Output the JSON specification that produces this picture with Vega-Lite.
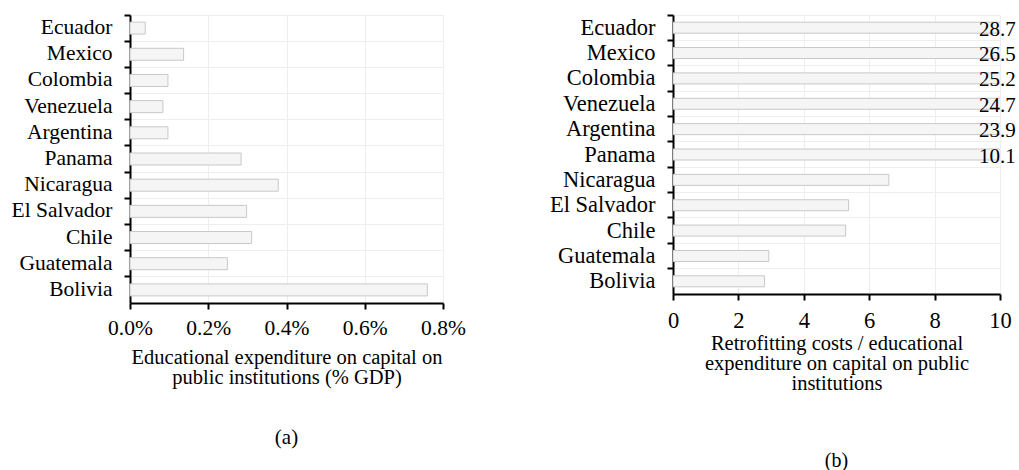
{
  "$schema": "https://vega.github.io/schema/vega-lite/v6.json",
  "padding": {"left": 11, "top": 14, "right": 0, "bottom": 0},
  "background": "white",
  "config": {
    "font": "Times New Roman, Liberation Serif, serif",
    "view": {"stroke": null},
    "axis": {
      "labelFont": "Times New Roman, Liberation Serif, serif",
      "titleFont": "Times New Roman, Liberation Serif, serif",
      "labelColor": "#000000",
      "titleColor": "#000000",
      "titleFontWeight": "normal",
      "labelFontWeight": "normal",
      "domainColor": "#000000",
      "domainWidth": 2,
      "tickColor": "#000000",
      "tickWidth": 2,
      "tickSize": 6,
      "gridColor": "#eeeeee",
      "gridWidth": 1,
      "labelOverlap": false,
      "labelFlush": false
    },
    "title": {"font": "Times New Roman, Liberation Serif, serif", "fontWeight": "normal", "color": "#000000"}
  },
  "datasets": {
    "countries": [
      {"country": "Ecuador", "a": 0.00039, "b": 28.7},
      {"country": "Mexico", "a": 0.00137, "b": 26.5},
      {"country": "Colombia", "a": 0.00097, "b": 25.2},
      {"country": "Venezuela", "a": 0.00084, "b": 24.7},
      {"country": "Argentina", "a": 0.00097, "b": 23.9},
      {"country": "Panama", "a": 0.00284, "b": 10.1},
      {"country": "Nicaragua", "a": 0.00379, "b": 6.6},
      {"country": "El Salvador", "a": 0.00298, "b": 5.37},
      {"country": "Chile", "a": 0.00311, "b": 5.28},
      {"country": "Guatemala", "a": 0.00249, "b": 2.93},
      {"country": "Bolivia", "a": 0.0076, "b": 2.8}
    ]
  },
  "hconcat": [
    {
      "width": 313,
      "height": 288,
      "data": {"name": "countries"},
      "title": {"text": "(a)", "orient": "bottom", "offset": 39, "fontSize": 21},
      "mark": {"type": "bar", "fill": "#f5f5f5", "stroke": "#c8c8c8", "strokeWidth": 1, "size": 12},
      "encoding": {
        "y": {
          "field": "country", "type": "nominal",
          "sort": ["Ecuador", "Mexico", "Colombia", "Venezuela", "Argentina", "Panama", "Nicaragua", "El Salvador", "Chile", "Guatemala", "Bolivia"],
          "scale": {"paddingInner": 0, "paddingOuter": 0},
          "axis": {"title": null, "bandPosition": 0, "grid": true, "labelFontSize": 21.5, "labelPadding": 12, "labelBaseline": "middle"}
        },
        "x": {
          "field": "a", "type": "quantitative",
          "scale": {"domain": [0, 0.008], "nice": false},
          "axis": {
            "format": ".1%", "values": [0, 0.002, 0.004, 0.006, 0.008],
            "labelFontSize": 21.5, "labelPadding": 8,
            "title": ["Educational expenditure on capital on", "public institutions (% GDP)"],
            "titleFontSize": 20.5, "titleLineHeight": 20, "titlePadding": 9
          }
        }
      }
    },
    {
      "width": 327,
      "height": 279,
      "data": {"name": "countries"},
      "title": {"text": "(b)", "orient": "bottom", "offset": 57, "fontSize": 20},
      "encoding": {
        "y": {
          "field": "country", "type": "nominal",
          "sort": ["Ecuador", "Mexico", "Colombia", "Venezuela", "Argentina", "Panama", "Nicaragua", "El Salvador", "Chile", "Guatemala", "Bolivia"],
          "scale": {"paddingInner": 0, "paddingOuter": 0},
          "axis": {"title": null, "bandPosition": 0, "grid": true, "labelFontSize": 22.5, "labelPadding": 12, "labelBaseline": "middle"}
        }
      },
      "layer": [
        {
          "mark": {"type": "bar", "fill": "#f5f5f5", "stroke": "#c8c8c8", "strokeWidth": 1, "size": 11, "clip": true},
          "encoding": {
            "x": {
              "field": "b", "type": "quantitative",
              "scale": {"domain": [0, 10], "nice": false},
              "axis": {
                "values": [0, 2, 4, 6, 8, 10],
                "labelFontSize": 22.5, "labelPadding": 9,
                "title": ["Retrofitting costs / educational", "expenditure on capital on public", "institutions"],
                "titleFontSize": 20.5, "titleLineHeight": 20, "titlePadding": 2
              }
            }
          }
        },
        {
          "transform": [{"filter": "datum.b > 10"}],
          "mark": {"type": "text", "align": "left", "baseline": "middle", "dx": -21, "dy": 2, "fontSize": 21, "font": "Times New Roman, Liberation Serif, serif", "color": "#000000"},
          "encoding": {
            "x": {"datum": 10, "type": "quantitative"},
            "text": {"field": "b", "type": "quantitative", "format": ".1f"}
          }
        }
      ]
    }
  ],
  "spacing": 83
}
